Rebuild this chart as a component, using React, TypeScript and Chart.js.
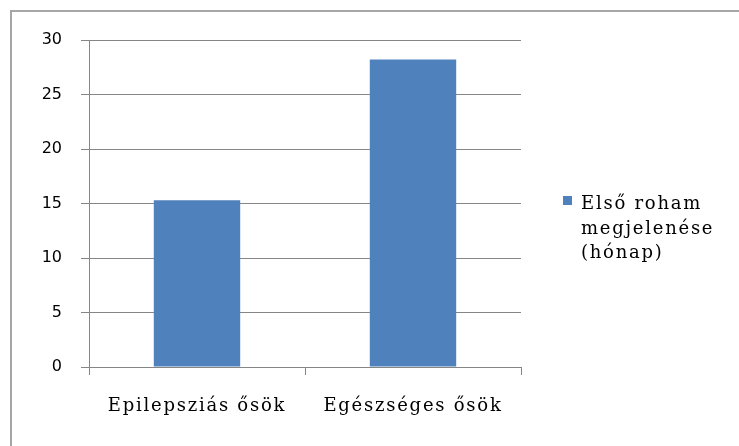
import React, { useEffect, useRef } from "react";
import { Chart, registerables } from "chart.js";

Chart.register(...registerables);

const categories = ["Epilepsziás ősök", "Egészséges ősök"];
const values = [15.3, 28.2];
const seriesLabel = "Első roham megjelenése (hónap)";
const legendLines = ["Első roham", "megjelenése", "(hónap)"];
const yMin = 0;
const yMax = 30;
const yStep = 5;

const BAR = "#4F81BD";
const GRID = "#868686";
const FRAME = "#A6A6A6";
const SERIF = "'DejaVu Serif', serif";
const SPACING = "1.75px";

const framePlugin = {
  id: "frame",
  beforeDraw(chart: any) {
    const ctx = chart.ctx;
    ctx.save();
    ctx.fillStyle = "#ffffff";
    ctx.fillRect(0, 0, chart.width, chart.height);
    ctx.strokeStyle = FRAME;
    ctx.lineWidth = 2;
    ctx.beginPath();
    ctx.moveTo(11, chart.height);
    ctx.lineTo(11, 11);
    ctx.lineTo(chart.width, 11);
    ctx.stroke();
    ctx.restore();
    (ctx as any).letterSpacing = SPACING;
  },
  afterDatasetsDraw(chart: any) {
    (chart.ctx as any).letterSpacing = "0px";
  },
};

const legendPlugin = {
  id: "sideLegend",
  afterDraw(chart: any) {
    const ctx = chart.ctx;
    ctx.save();
    ctx.fillStyle = BAR;
    ctx.fillRect(563, 196, 9, 9);
    ctx.fillStyle = "#000000";
    ctx.font = "18px " + SERIF;
    (ctx as any).letterSpacing = SPACING;
    ctx.textAlign = "left";
    ctx.textBaseline = "alphabetic";
    legendLines.forEach((line, i) => {
      ctx.fillText(line, 581, 209 + i * 24.5);
    });
    ctx.restore();
  },
};

export default function App() {
  const ref = useRef<HTMLCanvasElement | null>(null);

  useEffect(() => {
    if (!ref.current) return;
    const chart = new Chart(ref.current, {
      type: "bar",
      data: {
        labels: categories,
        datasets: [
          {
            label: seriesLabel,
            data: values,
            backgroundColor: BAR,
            borderWidth: 0,
            categoryPercentage: 1,
            barPercentage: 0.4,
          },
        ],
      },
      options: {
        responsive: false,
        animation: false,
        devicePixelRatio: 1,
        layout: { padding: { left: 0, top: 40, right: 218, bottom: 0 } },
        plugins: {
          legend: { display: false },
          tooltip: { enabled: false },
          title: { display: false },
        },
        scales: {
          x: {
            grid: {
              display: true,
              offset: true,
              drawOnChartArea: false,
              drawTicks: true,
              tickLength: 8,
              color: GRID,
            },
            border: { display: true, color: GRID },
            ticks: {
              color: "#000000",
              font: { family: SERIF, size: 18 },
              padding: 21,
              maxRotation: 0,
            },
            afterFit(scale: any) {
              scale.height = 79;
            },
          },
          y: {
            min: yMin,
            max: yMax,
            ticks: {
              stepSize: yStep,
              color: "#000000",
              font: { family: "'DejaVu Sans', sans-serif", size: 16 },
              padding: 19,
              z: 1,
            },
            grid: {
              color: GRID,
              drawTicks: true,
              tickLength: 8,
            },
            border: { display: true, color: GRID },
            afterFit(scale: any) {
              scale.width = 89;
            },
          },
        },
      },
      plugins: [framePlugin, legendPlugin],
    });
    return () => chart.destroy();
  }, []);

  return (
    <div style={{ position: "absolute", left: 0, top: 0, width: 739, height: 446, background: "#fff" }}>
      <canvas ref={ref} width={739} height={446} style={{ display: "block" }} />
    </div>
  );
}
